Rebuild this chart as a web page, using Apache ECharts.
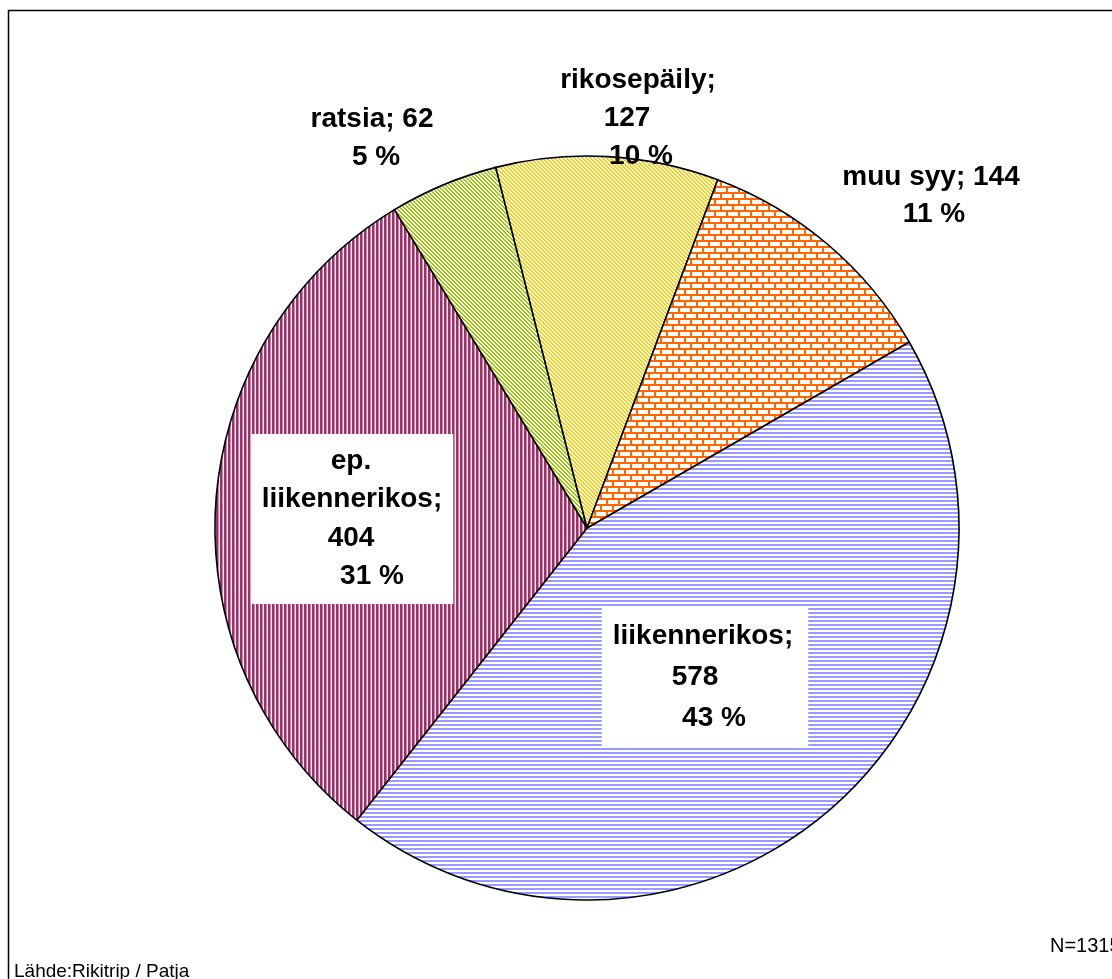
<!DOCTYPE html>
<html>
<head>
<meta charset="utf-8">
<title>Syyt</title>
<script src="https://cdn.jsdelivr.net/npm/echarts@6/dist/echarts.min.js"></script>
<style>
  html, body { margin: 0; padding: 0; background: #ffffff; }
  #chart { width: 1112px; height: 979px; }
</style>
</head>
<body>
<div id="chart"></div>
<script>
// Categories and counts
const categories = ['liikennerikos', 'ep. liikennerikos', 'ratsia', 'rikosepäily', 'muu syy'];
const counts = [578, 404, 62, 127, 144];
const percentLabels = ['43 %', '31 %', '5 %', '10 %', '11 %'];
const totalLabel = 'N=1315';
const sourceLabel = 'Lähde:Rikitrip / Patja';

// Label layout: words per line, horizontal nudge per line, label centre, line height, boxed or not
const lineGroups = [[1, 1, 1], [1, 1, 1, 1], [2, 1], [1, 1, 1], [3, 1]];
const lineShifts = [[-2, -10, 9], [-1, 0, -1, 20], [-2, 2], [1, -10, 4], [-1, 2]];
const labelCenters = [[705, 677], [352, 519], [374, 138], [637, 118], [932, 196]];
const lineHeights = [41, 38.5, 38, 38, 37];
const boxed = [true, true, false, false, false];

const FONT = '"Liberation Sans", Arial, Helvetica, sans-serif';

// Fill patterns
function makePattern(w, h, draw) {
  const c = document.createElement('canvas');
  c.width = w; c.height = h;
  const ctx = c.getContext('2d');
  ctx.fillStyle = '#ffffff';
  ctx.fillRect(0, 0, w, h);
  draw(ctx);
  return { image: c, repeat: 'repeat' };
}
const horizontalLines = (col) => makePattern(4, 4, ctx => {
  ctx.fillStyle = col; ctx.fillRect(0, 0, 4, 2);
});
const verticalLines = (col, soft) => makePattern(4, 4, ctx => {
  ctx.fillStyle = col; ctx.fillRect(0, 0, 2, 4);
  ctx.fillStyle = soft; ctx.fillRect(2, 0, 1, 4);
});
const diagonalLines = (col) => makePattern(4, 4, ctx => {
  ctx.fillStyle = col;
  for (let y = 0; y < 4; y++) {
    for (let x = 0; x < 4; x++) {
      const k = ((x - y) % 4 + 4) % 4;
      if (k === 0 || k === 1) ctx.fillRect(x, y, 1, 1);
    }
  }
});
const bricks = (col) => makePattern(12, 12, ctx => {
  ctx.fillStyle = col;
  ctx.fillRect(0, 0, 12, 2);
  ctx.fillRect(0, 6, 12, 2);
  ctx.fillRect(0, 2, 2, 4);
  ctx.fillRect(6, 8, 2, 4);
});

const fills = [
  horizontalLines('#9999ff'),
  verticalLines('#993366', '#c48aa6'),
  diagonalLines('#99cc00'),
  diagonalLines('#ffcc00'),
  bricks('#ff6600')
];

function buildLabel(i) {
  const words = categories[i].split(' ');
  words[words.length - 1] += ';';
  const tokens = words.concat([String(counts[i]), percentLabels[i]]);
  const lines = [];
  let p = 0;
  lineGroups[i].forEach(n => { lines.push(tokens.slice(p, p + n).join(' ')); p += n; });
  const rich = {};
  const parts = lines.map((t, j) => {
    const s = lineShifts[i][j] || 0;
    rich['l' + j] = {
      fontFamily: FONT, fontSize: 28, fontWeight: 'bold', color: '#000000',
      lineHeight: lineHeights[i],
      padding: [0, s < 0 ? -2 * s : 0, 0, s > 0 ? 2 * s : 0]
    };
    return '{l' + j + '|' + t + '}';
  });
  return { text: parts.join('\n'), rich: rich };
}

const seriesData = categories.map((name, i) => {
  const lab = buildLabel(i);
  return {
    name: name,
    value: counts[i],
    itemStyle: { color: fills[i] },
    label: {
      formatter: lab.text,
      rich: lab.rich,
      backgroundColor: boxed[i] ? '#ffffff' : 'transparent',
      padding: boxed[i] ? [8, 11] : 0
    }
  };
});

const chart = echarts.init(document.getElementById('chart'), null, { renderer: 'canvas' });
chart.setOption({
  backgroundColor: '#ffffff',
  animation: false,
  graphic: [
    {
      type: 'rect', silent: true, z: 0,
      shape: { x: 8.5, y: 10.5, width: 1300, height: 1300 },
      style: { fill: 'none', stroke: '#000000', lineWidth: 1.5 }
    },
    {
      type: 'text', silent: true, z: 10,
      style: { text: totalLabel, x: 1050, y: 946, font: '20px ' + FONT, fill: '#000000', textVerticalAlign: 'middle' }
    },
    {
      type: 'text', silent: true, z: 10,
      style: { text: sourceLabel, x: 14, y: 972, font: '19px ' + FONT, fill: '#000000', textVerticalAlign: 'middle' }
    }
  ],
  series: [{
    type: 'pie',
    center: [587, 528],
    radius: 372,
    startAngle: 30,
    clockwise: true,
    avoidLabelOverlap: false,
    itemStyle: { borderColor: '#000000', borderWidth: 1.6 },
    label: {
      show: true,
      position: 'inside',
      align: 'center',
      fontFamily: FONT, fontSize: 28, fontWeight: 'bold', color: '#000000'
    },
    labelLine: { show: false },
    labelLayout: function (params) {
      const c = labelCenters[params.dataIndex];
      return { x: c[0], y: c[1], align: 'center', verticalAlign: 'middle' };
    },
    emphasis: { disabled: true },
    data: seriesData
  }]
});
</script>
</body>
</html>
